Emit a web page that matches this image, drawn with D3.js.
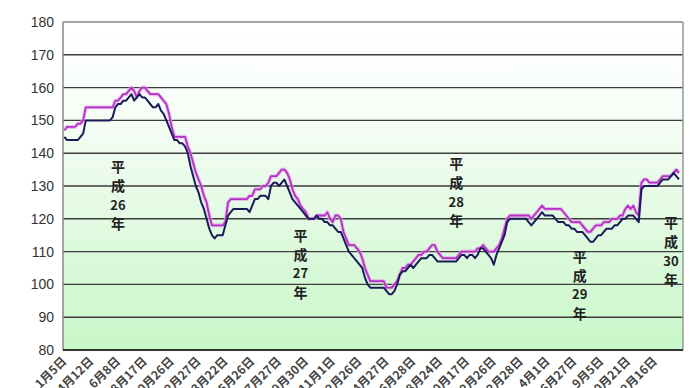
<!DOCTYPE html>
<html lang="ja">
<head>
<meta charset="UTF-8">
<title>価格推移</title>
<script src="https://cdn.jsdelivr.net/npm/d3@7"></script>
<style>
    body{ margin:0; background:#fff; }
</style>
</head>
<body>
<div id="grafico"></div>
<script>

// weekly prices, dark line (lower) and purple line (upper)
var priceA = [
 145,144,144,144,144,144,145,146,150,150,
 150,150,150,150,150,150,150,150,151,154,
 155,155,156,156,157,158,156,157,158,157,
 157,156,155,154,154,155,153,152,150,148,
 146,144,144,143,143,142,140,136,133,130,
 128,125,123,120,117,115,114,115,115,115,
 118,121,122,123,123,123,123,123,123,122,
 124,126,126,127,127,127,126,130,131,131,
 130,131,132,130,128,126,125,124,123,122,
 121,120,120,120,121,120,120,119,119,118,
 118,117,116,116,114,112,110,109,108,107,
 106,105,102,100,99,99,99,99,99,99,
 98,97,97,98,100,103,104,104,105,106,
 105,106,107,108,108,108,109,109,108,107,
 107,107,107,107,107,107,107,108,109,109,
 108,109,109,108,109,111,111,110,109,108,
 106,109,111,113,115,119,120,120,120,120,
 120,120,120,119,118,119,120,121,122,121,
 121,121,121,120,119,119,119,118,118,117,
 117,116,116,116,115,114,113,113,114,115,
 115,116,117,117,117,118,118,119,120,120,
 121,121,121,120,119,129,130,130,130,130,
 130,130,131,132,132,132,133,134,133,132
];

var priceB = [
 147,148,148,148,148,149,149,150,154,154,
 154,154,154,154,154,154,154,154,154,156,
 156,157,158,158,159,160,159,157,159,160,
 160,159,158,158,158,158,157,156,155,152,
 148,145,145,145,145,145,142,140,137,134,
 132,130,127,125,121,118,118,118,118,118,
 119,125,126,126,126,126,126,126,126,127,
 127,129,129,129,130,130,131,133,133,133,
 134,135,135,134,132,129,127,126,124,123,
 122,120,120,120,121,121,121,121,122,120,
 119,121,121,120,116,114,112,112,112,111,
 110,108,105,103,101,101,101,101,101,101,
 99,99,99,100,101,103,105,105,106,106,
 107,108,109,109,110,110,111,112,112,110,
 109,108,108,108,108,108,108,109,110,110,
 110,110,110,110,111,111,112,111,110,110,
 110,111,112,114,117,120,121,121,121,121,
 121,121,121,121,120,121,122,123,124,123,
 123,123,123,123,123,123,122,121,120,119,
 119,119,119,118,117,116,116,117,118,118,
 118,119,119,119,120,120,120,121,121,123,
 124,123,124,122,121,131,132,132,131,131,
 131,131,132,133,133,133,133,134,135,134
];

// one label every 10 weeks
var tickLabels = ["1月5日","4月12日","6月8日","8月17日","10月26日","12月27日","3月22日",
    "5月26日","7月27日","9月30日","11月1日","2月26日","4月27日","6月28日","8月24日",
    "10月17日","12月26日","2月28日","4月1日","6月27日","9月5日","10月21日","12月16日"];
var tickStep = 10;
var nWeeks = 231;

var yTicks = [80,90,100,110,120,130,140,150,160,170,180];

// year notes: label, week index, value of first character
var yearNotes = ["26","27","28","29","30"];
var yearWeek = [20, 88, 146, 192, 226];
var yearValue = [135.8, 114.8, 136.7, 108.4, 118.7];

var w = 690, h = 388;
var pLeft = 63, pRight = 683, pTop = 22, pBottom = 350;

var svg = d3.select("#grafico").append("svg")
    .attr("width", w).attr("height", h);

var xScale = d3.scaleBand()
    .domain(d3.range(nWeeks))
    .range([pLeft, pRight]);
var bw = xScale.bandwidth();

var yScale = d3.scaleLinear()
    .domain([80, 180])
    .range([pBottom, pTop]);

// plot background
var grad = svg.append("defs").append("linearGradient")
    .attr("id", "fondo").attr("x1", 0).attr("y1", 0).attr("x2", 0).attr("y2", 1);
grad.append("stop").attr("offset", "0%").attr("stop-color", "#ffffff");
grad.append("stop").attr("offset", "30%").attr("stop-color", "#f6fdf6");
grad.append("stop").attr("offset", "100%").attr("stop-color", "#c8f7c8");

svg.append("rect")
    .attr("x", pLeft).attr("y", pTop)
    .attr("width", pRight - pLeft).attr("height", pBottom - pTop)
    .attr("fill", "url(#fondo)");

// gridlines
svg.selectAll("line.grid")
    .data(yTicks.slice(1, -1))
    .enter().append("line")
    .attr("class", "grid")
    .attr("x1", pLeft).attr("x2", pRight)
    .attr("y1", function(d){ return yScale(d); })
    .attr("y2", function(d){ return yScale(d); })
    .attr("stroke", "#3c3c3c")
    .attr("stroke-width", 1.4);

// frame
svg.append("line").attr("x1", pLeft).attr("x2", pRight).attr("y1", pTop).attr("y2", pTop)
    .attr("stroke", "#888").attr("stroke-width", 1.5);
svg.append("line").attr("x1", pLeft).attr("x2", pLeft).attr("y1", pTop).attr("y2", pBottom)
    .attr("stroke", "#888").attr("stroke-width", 1.5);
svg.append("line").attr("x1", pRight).attr("x2", pRight).attr("y1", pTop).attr("y2", pBottom)
    .attr("stroke", "#999").attr("stroke-width", 1.5);
svg.append("line").attr("x1", pLeft).attr("x2", pRight).attr("y1", pBottom).attr("y2", pBottom)
    .attr("stroke", "#333").attr("stroke-width", 2);

// y labels
svg.selectAll("text.ylab")
    .data(yTicks)
    .enter().append("text")
    .attr("class", "ylab")
    .attr("x", 54)
    .attr("y", function(d){ return yScale(d); })
    .attr("dy", "0.36em")
    .attr("text-anchor", "end")
    .attr("font-family", "Liberation Sans, Arial, sans-serif")
    .attr("font-size", "14px")
    .attr("fill", "#333")
    .text(function(d){ return d; });

// x labels
svg.selectAll("text.xlab")
    .data(tickLabels)
    .enter().append("text")
    .attr("class", "xlab")
    .attr("transform", function(d, i){
        var x = xScale(i * tickStep) + bw / 2;
        return "translate(" + (x + 3) + "," + (pBottom + 12) + ") rotate(-45)";
    })
    .attr("text-anchor", "end")
    .attr("font-family", "Noto Sans CJK JP, sans-serif")
    .attr("font-weight", "bold")
    .attr("font-size", "12px")
    .attr("fill", "#444")
    .text(function(d){ return d; });

var linea = d3.line()
    .x(function(d, i){ return xScale(i) + bw / 2; })
    .y(function(d){ return yScale(d); });

// purple line with soft halo
svg.append("path").datum(priceB)
    .attr("d", linea).attr("fill", "none")
    .attr("stroke", "#e2a6ec").attr("stroke-width", 4).attr("stroke-opacity", 0.7)
    .attr("stroke-linejoin", "round");
svg.append("path").datum(priceB)
    .attr("d", linea).attr("fill", "none")
    .attr("stroke", "#b52fc4").attr("stroke-width", 1.8)
    .attr("stroke-linejoin", "round");

svg.append("path").datum(priceA)
    .attr("d", linea).attr("fill", "none")
    .attr("stroke", "#1b1b5a").attr("stroke-width", 2)
    .attr("stroke-linejoin", "round");

// 平成xx年 notes, written top to bottom
yearNotes.forEach(function(n, k){
    var x = xScale(yearWeek[k]) + bw / 2;
    var y0 = yScale(yearValue[k]);
    var chars = ["平", "成", n, "年"];
    chars.forEach(function(c, j){
        svg.append("text")
            .attr("x", x)
            .attr("y", y0 + j * 18.8)
            .attr("dy", "0.38em")
            .attr("text-anchor", "middle")
            .attr("font-family", "Noto Sans CJK JP, sans-serif")
            .attr("font-weight", "bold")
            .attr("font-size", j == 2 ? "13px" : "14px")
            .attr("fill", "#222")
            .text(c);
    });
});

</script>
</body>
</html>
